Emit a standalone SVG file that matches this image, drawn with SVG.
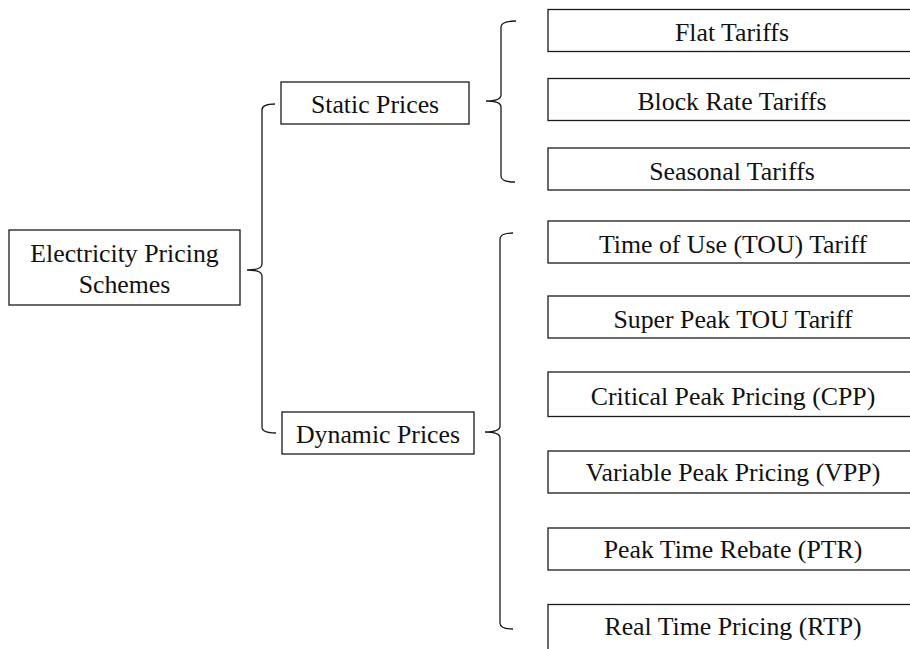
<svg xmlns="http://www.w3.org/2000/svg" width="910" height="649" viewBox="0 0 910 649">
<style>
rect{fill:#fff;stroke:#1a1a1a;stroke-width:1.3}
text{font-family:"Liberation Serif","Times New Roman",serif;font-size:25.8px;fill:#111;text-anchor:middle}
.br{fill:none;stroke:#1a1a1a;stroke-width:1.3}
</style>
<rect x="0" y="0" width="910" height="649" style="fill:#fff;stroke:none"/>
<g id="connectors">
<path class="br" d="M275,104 Q262,104 262,110 L262,264 Q262,270 247,270 Q262,270 262,276 L262,427 Q262,433 276,433"/>
<path class="br" d="M516,21 Q501,21 501,27 L501,95 Q501,101 486,101 Q501,101 501,107 L501,176 Q501,182 515,182"/>
<path class="br" d="M513,233 Q500,233 500,239 L500,426 Q500,432 485,432 Q500,432 500,438 L500,623 Q500,629 513,629"/>
</g>
<g id="root">
<rect x="9" y="230" width="231" height="75"/>
<text x="124.5" y="262">Electricity Pricing</text>
<text x="124.5" y="293">Schemes</text>
</g>
<g id="static">
<rect x="281" y="82" width="188" height="42"/>
<text x="375" y="113">Static Prices</text>
</g>
<g id="dynamic">
<rect x="282" y="412" width="192" height="42"/>
<text x="378" y="443">Dynamic Prices</text>
</g>
<g id="flat">
<rect x="548" y="9.5" width="380" height="42"/>
<text x="732" y="40.5">Flat Tariffs</text>
</g>
<g id="block">
<rect x="548" y="78.5" width="380" height="42"/>
<text x="732" y="110">Block Rate Tariffs</text>
</g>
<g id="seasonal">
<rect x="548" y="148" width="380" height="42"/>
<text x="732" y="179.5">Seasonal Tariffs</text>
</g>
<g id="tou">
<rect x="548" y="221" width="380" height="42"/>
<text x="733" y="252.5">Time of Use (TOU) Tariff</text>
</g>
<g id="superpeak">
<rect x="548" y="296" width="380" height="42"/>
<text x="733" y="327.5">Super Peak TOU Tariff</text>
</g>
<g id="cpp">
<rect x="548" y="372" width="380" height="44.5"/>
<text x="733" y="404.5">Critical Peak Pricing (CPP)</text>
</g>
<g id="vpp">
<rect x="548" y="451" width="380" height="42"/>
<text x="733" y="481">Variable Peak Pricing (VPP)</text>
</g>
<g id="ptr">
<rect x="548" y="528" width="380" height="42"/>
<text x="733" y="557.5">Peak Time Rebate (PTR)</text>
</g>
<g id="rtp">
<rect x="548" y="604.5" width="380" height="60"/>
<text x="733" y="634.5">Real Time Pricing (RTP)</text>
</g>
</svg>
